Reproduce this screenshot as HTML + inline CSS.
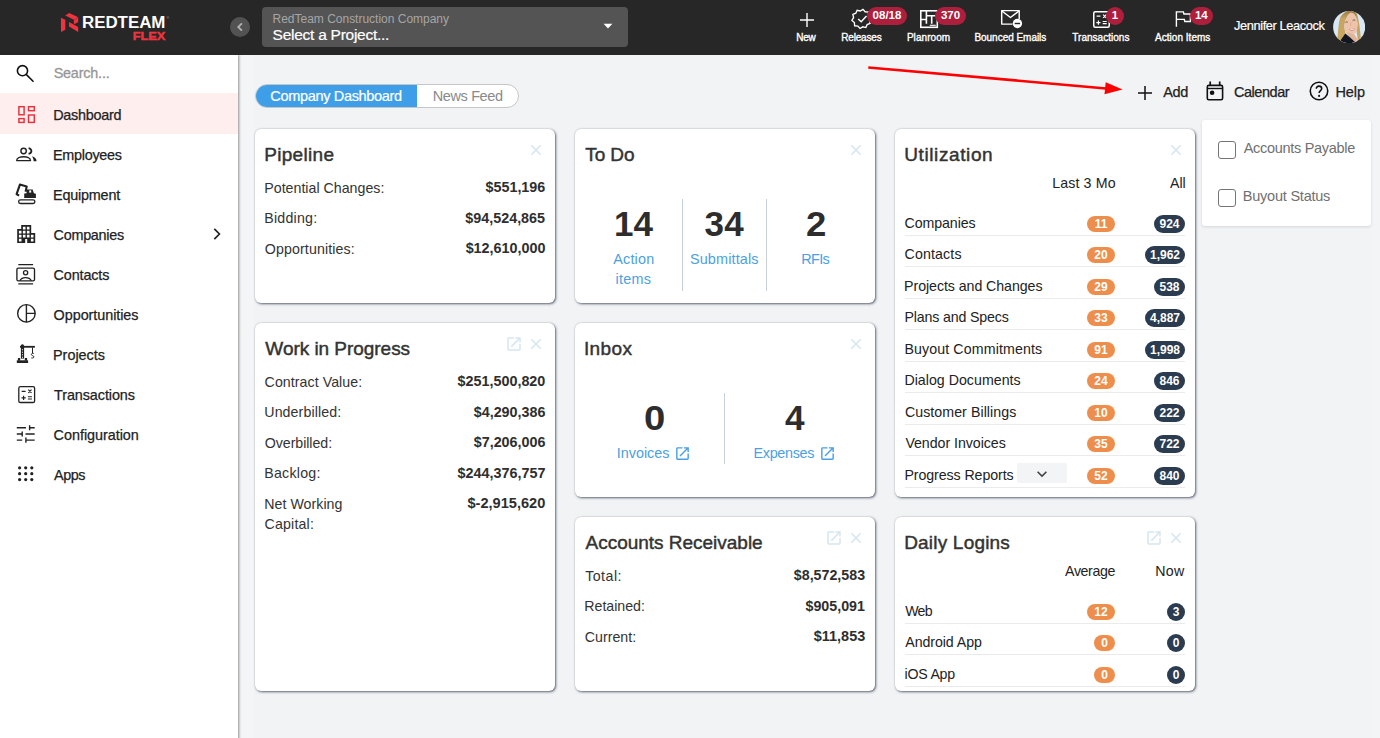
<!DOCTYPE html>
<html><head><meta charset="utf-8">
<style>
*{box-sizing:border-box;margin:0;padding:0}
html,body{width:1380px;height:738px;overflow:hidden}
body{font-family:"Liberation Sans",sans-serif;background:#f1f3f5;position:relative;color:#333}
.abs{position:absolute}
#hdr{position:absolute;left:0;top:0;width:1380px;height:55px;background:#272727;z-index:5}
#side{position:absolute;left:0;top:55px;width:238px;height:700px;background:#fff;box-shadow:1px 0 2.500px rgba(0,0,0,.42);z-index:3}
.nav{position:absolute;left:0;width:238px;height:40px}
.nav .t{position:absolute;left:54px;top:11px;font-size:14.4px;line-height:18px;color:#222;white-space:nowrap;-webkit-text-stroke:.25px #222}
.nav svg{position:absolute;left:14px;top:8px;width:24px;height:24px;fill:#222}
.card{position:absolute;background:#fff;border-radius:6px;box-shadow:1px 1px 2.5px rgba(55,62,85,.78), 0 0 1.5px rgba(55,62,85,.25)}
.card h3{position:absolute;left:10px;top:14px;font-size:19px;line-height:24px;font-weight:normal;color:#333;white-space:nowrap;-webkit-text-stroke:.45px #333}
.rl{position:absolute;left:10px;height:20px;font-size:14.2px;line-height:20px;color:#333;white-space:nowrap}
.rv{position:absolute;right:10px;height:20px;font-weight:bold;color:#2e2e2e;font-size:15.2px;line-height:20px;white-space:nowrap;top:0}
.ch{position:absolute;font-size:14.2px;line-height:20px;color:#222;white-space:nowrap}
.x{position:absolute;width:18px;height:18px;fill:#d5e6f3}
.big{position:absolute;font-weight:bold;font-size:35px;line-height:40px;color:#2d2d2d;text-align:center;width:80px}
.lnk{position:absolute;font-size:14.4px;line-height:20px;color:#4b9fe3;text-align:center;width:90px}
.lnk span,.po span,.pd span{display:inline-block}
.vdiv{position:absolute;width:1px;background:#c8d0da}
.urow{position:absolute;left:10px;right:10px;height:32px;border-bottom:1px solid #ebebed}
.urow .l{position:absolute;left:0;top:9px;font-size:14.2px;line-height:20px;color:#222;white-space:nowrap}
.po,.pd{position:absolute;height:17px;border-radius:9px;color:#fff;font-weight:bold;font-size:12px;line-height:17px;text-align:center;top:8px}
.po{background:#ee8e4c}
.pd{background:#2b3b50}
.hi{position:absolute;top:0;height:55px;color:#fff;font-size:10px;text-align:center}
.hi .lb{position:absolute;top:31.700px;left:0;right:0;line-height:12px;white-space:nowrap;-webkit-text-stroke:.35px #fff}
.bdg{position:absolute;height:20px;border-radius:10px;background:#ad1f3c;color:#fff;font-weight:bold;font-size:11.500px;line-height:20px;text-align:center;top:5px}
</style>
<style id="fit">
#t_rcc{letter-spacing:-0.009px;transform:translateX(-0.48px)}
#t_sap{letter-spacing:-0.257px;transform:translateX(-0.42px)}
#t_search{letter-spacing:-0.191px;transform:translateX(-0.35px)}
#n0{letter-spacing:-0.241px;transform:translateX(-0.85px)}
#n1{letter-spacing:-0.287px;transform:translateX(-0.97px)}
#n2{letter-spacing:-0.206px;transform:translateX(-0.97px)}
#n3{letter-spacing:-0.291px;transform:translateX(-0.38px)}
#n4{letter-spacing:-0.148px;transform:translateX(-0.38px)}
#n5{letter-spacing:-0.059px;transform:translateX(-0.39px)}
#n6{letter-spacing:-0.013px;transform:translateX(-0.97px)}
#n7{letter-spacing:-0.078px;transform:translateX(0.00px)}
#n8{letter-spacing:-0.031px;transform:translateX(-0.38px)}
#n9{letter-spacing:-0.404px;transform:translateX(-0.06px)}
#t_cd{letter-spacing:-0.325px;transform:translateX(-0.69px)}
#t_nf{letter-spacing:-0.372px;transform:translateX(-0.79px)}
#t_add{letter-spacing:-0.367px;transform:translateX(0.24px)}
#t_cal{letter-spacing:-0.449px;transform:translateX(-0.09px)}
#t_help{letter-spacing:-0.056px;transform:translateX(-0.59px)}
#t_ap{letter-spacing:-0.302px;transform:translateX(0.20px)}
#t_bs{letter-spacing:-0.224px;transform:translateX(-0.72px)}
#h_pipe{letter-spacing:0.313px;transform:translateX(-0.85px)}
#pi_l0{letter-spacing:0.011px;transform:translateX(-0.75px)}
#pi_l1{letter-spacing:0.235px;transform:translateX(-0.75px)}
#pi_l2{letter-spacing:0.131px;transform:translateX(-0.26px)}
#h_todo{letter-spacing:-0.085px;transform:translateX(0.24px)}
#h_util{letter-spacing:0.615px;transform:translateX(-0.83px)}
#t_l3{letter-spacing:0.143px;transform:translateX(0.72px)}
#t_all{letter-spacing:-0.163px;transform:translateX(0.88px)}
#u_l0{letter-spacing:-0.097px;transform:translateX(-0.40px)}
#u_l1{letter-spacing:0.131px;transform:translateX(-0.40px)}
#u_l2{letter-spacing:-0.062px;transform:translateX(-0.89px)}
#u_l3{letter-spacing:-0.142px;transform:translateX(-0.60px)}
#u_l4{letter-spacing:0.123px;transform:translateX(-0.60px)}
#u_l5{letter-spacing:0.018px;transform:translateX(-0.60px)}
#u_l6{letter-spacing:0.058px;transform:translateX(-0.06px)}
#u_l7{letter-spacing:-0.039px;transform:translateX(0.38px)}
#u_l8{letter-spacing:-0.077px;transform:translateX(-0.60px)}
#h_wip{letter-spacing:-0.042px;transform:translateX(0.36px)}
#wp_l0{letter-spacing:0.057px;transform:translateX(-0.39px)}
#wp_l1{letter-spacing:0.098px;transform:translateX(-0.71px)}
#wp_l2{letter-spacing:-0.044px;transform:translateX(-0.26px)}
#wp_l3{letter-spacing:0.244px;transform:translateX(-0.75px)}
#wp_l4{letter-spacing:0.033px;transform:translateX(-0.75px)}
#wp_l4b{letter-spacing:0.160px;transform:translateX(-0.39px)}
#h_inbox{letter-spacing:0.375px;transform:translateX(-1.04px)}
#h_ar{letter-spacing:-0.015px;transform:translateX(0.52px)}
#ar_l0{letter-spacing:0.493px;transform:translateX(0.14px)}
#ar_l1{letter-spacing:-0.004px;transform:translateX(-0.75px)}
#ar_l2{letter-spacing:0.020px;transform:translateX(-0.26px)}
#h_dl{letter-spacing:0.193px;transform:translateX(-0.80px)}
#t_avg{letter-spacing:-0.381px;transform:translateX(-0.02px)}
#t_now{letter-spacing:0.209px;transform:translateX(-0.14px)}
#d_l0{letter-spacing:-0.875px;transform:translateX(0.36px)}
#d_l1{letter-spacing:-0.068px;transform:translateX(0.26px)}
#d_l2{letter-spacing:-0.236px;transform:translateX(-0.48px)}
#k_act{letter-spacing:0.189px;transform:translateX(0.32px)}
#k_itm{letter-spacing:0.260px;transform:translateX(-0.08px)}
#k_sub{letter-spacing:0.150px;transform:translateX(-0.38px)}
#k_rfi{letter-spacing:-0.664px;transform:translateX(-0.78px)}
#k_inv{letter-spacing:-0.026px;transform:translateX(-1.18px)}
#k_exp{letter-spacing:-0.333px;transform:translateX(-1.26px)}
#t_new{letter-spacing:-0.291px;transform:translateX(-1.08px)}
#t_rel{letter-spacing:-0.185px;transform:translateX(-0.65px)}
#t_pln{letter-spacing:0.064px;transform:translateX(-0.46px)}
#t_bnc{letter-spacing:-0.028px;transform:translateX(-0.65px)}
#t_trn{letter-spacing:0.016px;transform:translateX(-0.12px)}
#t_act{letter-spacing:0.028px;transform:translateX(0.72px)}
#t_usr{letter-spacing:-0.379px;transform:translateX(-0.05px)}
#g14{letter-spacing:-0.061px;transform:translateX(-1.07px)}
#g34{letter-spacing:0.192px;transform:translateX(-0.33px)}
#g2{transform:translateX(0.12px) scaleX(1.045)}
#g0{transform:translateX(-0.38px) scaleX(1.094)}
#g4{transform:translateX(-0.22px) scaleX(1.006)}
#pi_v0{transform-origin:right center;transform:translateX(-0.07px) scaleX(0.9435)}
#pi_v1{transform-origin:right center;transform:translateX(-0.44px) scaleX(0.9434)}
#pi_v2{transform-origin:right center;transform:translateX(-0.01px) scaleX(0.9451)}
#wp_v0{transform-origin:right center;transform:translateX(0.43px) scaleX(0.9452)}
#wp_v1{transform-origin:right center;transform:translateX(0.36px) scaleX(0.9421)}
#wp_v2{transform-origin:right center;transform:translateX(0.36px) scaleX(0.9421)}
#wp_v3{transform-origin:right center;transform:translateX(0.50px) scaleX(0.9460)}
#wp_v4{transform-origin:right center;transform:translateX(0.26px) scaleX(0.9603)}
#ar_v0{transform-origin:right center;transform:translateX(0.04px) scaleX(0.9368)}
#ar_v1{transform-origin:right center;transform:translateX(-0.41px) scaleX(0.9378)}
#ar_v2{transform-origin:right center;transform:translateX(0.15px) scaleX(0.9514)}
</style></head><body>


<div id="hdr">
 <!-- logo -->
 <svg class="abs" style="left:0;top:0" width="240" height="55" viewBox="0 0 240 55">
  <g fill="#f0343f"><path d="M60.900 17.800L65.300 19.800V29.700L61 32Z"/><path d="M69.200 12.900L78.200 17.300 73.900 19.800 65.300 15.400Z"/><path d="M73.900 19.800L78.200 17.400V22.200L73.900 24.200Z" fill="#ec323d"/><path d="M69 21.900L78.200 27.100V32L69 26.600Z"/></g>
  <text x="82" y="27.800" font-family="Liberation Sans" font-weight="bold" font-size="16" fill="#fff" textLength="83.400" lengthAdjust="spacingAndGlyphs">REDTEAM</text>
  <text x="132.700" y="40.400" font-family="Liberation Sans" font-weight="bold" font-size="11.600" fill="#f0343f" stroke="#f0343f" stroke-width=".45" textLength="32.700" lengthAdjust="spacingAndGlyphs">FLEX</text>
  <text x="166.500" y="19" font-family="Liberation Sans" font-size="3.600" fill="#aaa">®</text>
 </svg>
 <!-- collapse -->
 <div class="abs" style="left:230px;top:17px;width:20px;height:20px;border-radius:50%;background:#525252"></div>
 <svg class="abs" style="left:232px;top:19px" width="16" height="16" viewBox="0 0 24 24"><path fill="#b8b8b8" stroke="#b8b8b8" stroke-width=".8" d="M15.41 7.41L14 6l-6 6 6 6 1.41-1.41L10.83 12z"/></svg>
 <!-- project selector -->
 <div class="abs" style="left:262px;top:7px;width:366px;height:40px;border-radius:4px;background:#545454"></div>
 <div class="abs" id="t_rcc" style="left:273px;top:12px;font-size:12px;line-height:14px;color:#a6a6a6;white-space:nowrap">RedTeam Construction Company</div>
 <div class="abs" id="t_sap" style="left:273px;top:25px;font-size:15.5px;line-height:19px;color:#fff;-webkit-text-stroke:.2px #fff;white-space:nowrap">Select a Project...</div>
 <svg class="abs" style="left:596px;top:14px" width="24" height="24" viewBox="0 0 24 24"><path fill="#fff" d="M7.6 9.8l4.4 4.6 4.4-4.6z"/></svg>

 <!-- New -->
 <svg class="abs" style="left:795px;top:8px" width="24" height="24" viewBox="0 0 24 24"><path fill="#fff" d="M19 12.7h-6.3V19h-1.4v-6.3H5v-1.4h6.3V5h1.4v6.3H19z"/></svg>
 <div class="hi" style="left:787px;width:40px"><div class="lb" id="t_new">New</div></div>
 <svg class="abs" style="left:0;top:0" width="1380" height="55" viewBox="0 0 1380 55"><polygon points="863.02,9.32 865.13,11.77 868.36,12.04 868.63,15.27 871.08,17.38 869.40,20.15 870.14,23.30 867.16,24.56 865.90,27.54 862.75,26.80 859.98,28.48 857.87,26.03 854.64,25.76 854.37,22.53 851.92,20.42 853.60,17.65 852.86,14.50 855.84,13.24 857.10,10.26 860.25,11.00" fill="none" stroke="#fff" stroke-width="1.35" stroke-linejoin="miter"/><path d="M858.2 18.900l3 2.900 5.300-5.800" fill="none" stroke="#fff" stroke-width="1.450"/><g fill="none" stroke="#fff" stroke-width="1.600"><rect x="920.800" y="10.800" width="16.500" height="16.500"/><path d="M926.400 10.800v13M920.800 19.500h5.600M926.400 15.800h11M931.700 15.800v8" /><path d="M929.800 25.300h6" stroke-width="1.100"/></g><g fill="none" stroke="#fff" stroke-width="1.450" stroke-linejoin="round"><path d="M1012.500 24.100h-10.800v-13.500h17.500v8.400"/><path d="M1001.900 11l8.550 6.500 8.550-6.500"/></g><circle cx="1017.400" cy="23.500" r="4.700" fill="#fff"/><rect x="1014.700" y="22.800" width="5.400" height="1.400" fill="#272727"/><g fill="none" stroke="#fff"><rect x="1093.750" y="11.650" width="15.500" height="15.500" rx="1.500" stroke-width="1.500"/><path d="M1096.600 16.200h3.800M1102.700 21.500h4M1102.700 23.700h4M1096.300 22.600h4.200M1098.400 20.500v4.200M1103.100 14.600l3.200 3.200M1106.300 14.600l-3.200 3.200" stroke-width="1.200"/></g><path d="M1176.400 26.700V11.900h7l.5 2.100h6.500v7.500h-5.600l-.5-2.100h-7.900" fill="none" stroke="#fff" stroke-width="1.400"/></svg>
 <!-- Releases -->
 
 <div class="hi" style="left:832px;width:60px"><div class="lb" id="t_rel">Releases</div></div>
 <div class="bdg" style="left:867px;width:40px;top:7px;height:18px;line-height:17.400px" id="b1">08/18</div>
 <!-- Planroom -->
 
 <div class="hi" style="left:899px;width:60px"><div class="lb" id="t_pln">Planroom</div></div>
 <div class="bdg" style="left:935px;width:31px;top:7px;height:18px;line-height:17.400px" id="b2">370</div>
 <!-- Bounced Emails -->
 
 <div class="hi" style="left:971px;width:80px"><div class="lb" id="t_bnc">Bounced Emails</div></div>
 <!-- Transactions -->
 
 <div class="hi" style="left:1066px;width:70px"><div class="lb" id="t_trn">Transactions</div></div>
 <div class="bdg" style="left:1106px;width:18px;top:7px;height:18px;line-height:17.400px">1</div>
 <!-- Action Items -->
 
 <div class="hi" style="left:1147px;width:70px"><div class="lb" id="t_act">Action Items</div></div>
 <div class="bdg" style="left:1189.800px;width:23px;top:7px;height:18px;line-height:17.400px">14</div>
 <!-- user -->
 <div class="abs" id="t_usr" style="left:1234px;top:17.800px;font-size:12.800px;line-height:16px;color:#fff;-webkit-text-stroke:.2px #fff;white-space:nowrap">Jennifer Leacock</div>
 <svg class="abs" style="left:1332.900px;top:10.800px" width="32.300" height="32.200" viewBox="0 0 32 32">
  <defs><clipPath id="av"><circle cx="16" cy="16" r="16"/></clipPath>
  <linearGradient id="hg" x1="0" y1="0" x2="0" y2="1"><stop offset="0" stop-color="#9a7842"/><stop offset=".25" stop-color="#c7a461"/><stop offset="1" stop-color="#c9a762"/></linearGradient></defs>
  <g clip-path="url(#av)">
   <rect width="32" height="32" fill="#d6e7f5"/><path d="M13 1C15 -.5 20 -.5 22.800 1.800L20.600 3 17.600 2 15 3.600Z" fill="#9a7842"/>
   <path d="M14.600 0C12 .5 8 4 6.700 7.600 5.500 12 5.200 18.600 4.300 27.400L7.300 29.500 12.500 23 11 15.500 12.200 9.500 15.200 3.400 17.600 1.200Z" fill="url(#hg)"/>
   <path d="M17.600 1.200C20 .3 22 .8 22.800 1.800 24.500 4 25.600 10 26.300 14.300 27 20 27.300 24 27.500 27.100L24.800 29.300 23.400 20.400 24.300 12.500 22.800 6.400 20.600 2.700Z" fill="url(#hg)"/>
   <path d="M15.200 3.400L17.600 1.600 20.600 2.600 23 6.400 24.500 12.500 23.600 20.400 20.600 23.300 16.400 22.900 12.200 20.400 11 15.500 12.200 9.500Z" fill="#edc3a9"/>
   <path d="M12.500 21L20.800 23.100 24.600 28.400 22.400 31.500 16.400 26Z" fill="#e2b497"/>
   <path d="M7.300 29.300L12.200 22.300 16.400 25.900 21.800 30.800 16.400 32.500 10.400 31.200Z" fill="#121620"/>
   <path d="M15.700 17.300C17.500 18.300 20 18 22 16.700 21.500 19 19.800 19.900 18.600 19.800 17.200 19.700 16.100 18.600 15.700 17.300Z" fill="#d88c8f"/>
   <path d="M16.300 17.700C18 18.400 20 18.100 21.500 17.200 21 18.400 19.800 18.900 18.700 18.900 17.700 18.800 16.800 18.400 16.300 17.700Z" fill="#fff"/>
   <path d="M12.300 11.300c.7-.6 1.600-.6 2.300-.1M19.500 9.500c.8-.7 1.800-.8 2.600-.3" stroke="#5d4838" stroke-width=".9" fill="none"/>
   <path d="M17.800 11.500l-.6 3.300" stroke="#dba98d" stroke-width=".8" fill="none"/>
  </g>
 </svg>
</div>


<div id="side">
 <div class="abs" style="left:0;top:38px;width:238px;height:41px;background:#feeeee"></div>
 <!-- search -->
 
 <div class="abs" id="t_search" style="left:54px;top:9px;font-size:14.400px;line-height:18px;color:#979797;-webkit-text-stroke:.3px #979797;white-space:nowrap">Search...</div>

 <div class="nav" style="top:40px"><div class="t" id="n0">Dashboard</div></div>

 <div class="nav" style="top:80px"><div class="t" id="n1">Employees</div></div>

 <div class="nav" style="top:120px"><div class="t" id="n2">Equipment</div></div>

 <div class="nav" style="top:160px"><div class="t" id="n3">Companies</div>
  </div>

 <div class="nav" style="top:200px"><div class="t" id="n4">Contacts</div></div>

 <div class="nav" style="top:240px"><div class="t" id="n5">Opportunities</div></div>

 <div class="nav" style="top:280px"><div class="t" id="n6">Projects</div></div>

 <div class="nav" style="top:320px"><div class="t" id="n7">Transactions</div></div>

 <div class="nav" style="top:360px"><div class="t" id="n8">Configuration</div></div>

 <div class="nav" style="top:400px"><div class="t" id="n9">Apps</div></div>

 <svg class="abs" style="left:0;top:-55px;pointer-events:none" width="238" height="738" viewBox="0 0 238 738">
  <!-- search -->
  <g fill="none" stroke="#111" stroke-width="1.600"><circle cx="22.500" cy="70.700" r="5.100"/><path d="M26.200 74.400l7.300 7.300"/></g>
  <!-- dashboard -->
  <g fill="none" stroke="#e8313d" stroke-width="1.450"><rect x="18.900" y="106.700" width="5.200" height="8.100"/><rect x="28.500" y="106.700" width="5.800" height="4"/><rect x="18.900" y="118.600" width="5.200" height="3.800"/><rect x="28.500" y="115" width="5.800" height="7.400"/></g>
  <!-- employees -->
  <g fill="none" stroke="#222" stroke-width="1.400"><circle cx="23.600" cy="151" r="2.700"/><path d="M16.700 160.600c0-2.600 3.600-3.900 6.900-3.900s6.900 1.300 6.900 3.900z" stroke-linejoin="round"/><path d="M28.600 148.100c2 .5 2.800 1.700 2.800 2.900s-.8 2.400-2.800 2.900" stroke-width="1.800"/></g>
  <path d="M31.700 156.200c3.100.6 4.900 2.400 4.900 5.100h-3c0-2.100-.5-3.700-1.900-5.100z" fill="#222"/>
  <!-- equipment -->
  <g fill="none" stroke="#222"><rect x="18.600" y="199.900" width="16.300" height="3.600" rx="1.800" stroke-width="1.300"/><path d="M25.600 191.800l1.100-5.200-6.800-2-3.300 9.500 2.500 1.600" stroke-width="2.100" stroke-linejoin="round"/></g>
  <path d="M24.200 197.900v-4.300l2.400-.4v-3.800h6l1.300 3.800 2 .5v4.200z" fill="#222"/><rect x="29.200" y="190.400" width="2" height="2.200" fill="#fff"/>
  <!-- companies -->
  <g transform="translate(14.200,222.100)" fill="#222"><path d="M17 11V3H7v4H3v14h8v-4h2v4h8V11h-4zM7.300 19.300H4.700v-2.600h2.600v2.600zm0-4H4.700v-2.600h2.600v2.600zm0-4H4.700V8.700h2.600v2.600zm4 4H8.700v-2.600h2.600v2.600zm0-4H8.700V8.700h2.600v2.600zm0-4H8.700V4.700h2.600v2.600zm4 8h-2.600v-2.600h2.600v2.600zm0-4h-2.600V8.700h2.600v2.600zm0-4h-2.600V4.700h2.600v2.600zm4 12h-2.600v-2.600h2.600v2.600zm0-4h-2.600v-2.600h2.600v2.600z"/></g>
  <path d="M214.300 228.900l5.100 5.100-5.100 5.100" fill="none" stroke="#222" stroke-width="1.700"/>
  <!-- contacts -->
  <g fill="none" stroke="#222" stroke-width="1.350"><rect x="16.900" y="268.100" width="17.600" height="12.700" rx="1.400"/><path d="M18.300 264.600h14.800M18.300 283.800h14.800"/><circle cx="25.600" cy="272.800" r="2.100"/><path d="M19.800 280.700c1.200-2.200 3.500-3.100 5.800-3.100s4.600.9 5.800 3.100"/></g>
  <!-- opportunities -->
  <g fill="none" stroke="#222" stroke-width="1.400"><circle cx="26.400" cy="313.400" r="8.750"/><path d="M26.400 304.600v17.600M26.400 313.400h8.800"/></g>
  <!-- projects -->
  <g fill="#222"><rect x="20" y="345.900" width="14.900" height="1.800"/><circle cx="22.400" cy="345.900" r="1.700"/><rect x="20.900" y="347" width="3.200" height="11.600"/><rect x="17.900" y="358" width="2.300" height="2.600"/><rect x="24.800" y="358" width="2.300" height="2.600"/><rect x="16.800" y="360.300" width="11.300" height="2.700"/></g>
  <g fill="#fff"><rect x="22.100" y="349.200" width=".9" height="1.100"/><rect x="22.100" y="351.700" width=".9" height="1.100"/><rect x="22.100" y="354.200" width=".9" height="1.100"/><rect x="22.100" y="356.700" width=".9" height="1.100"/></g>
  <path d="M32.500 347.500v5.600" stroke="#222" stroke-width="1" fill="none"/><path d="M33.800 353.400h-1.100c-.8 0-1.300.4-1.300 1.100 0 1.500 2.500.9 2.500 2.400 0 .7-.5 1.100-1.300 1.100h-1.300" stroke="#222" stroke-width=".95" fill="none"/>
  <!-- transactions -->
  <g fill="none" stroke="#222"><rect x="18.800" y="386.700" width="15.800" height="15.800" rx="1.600" stroke-width="1.300"/><path d="M21.700 391.300h3.900M27.900 396.700h4M27.900 399h4M21.500 397.900h4.200M23.600 395.800v4.200M28.300 389.700l3.200 3.200M31.500 389.700l-3.200 3.200" stroke-width="1.150"/></g>
  <!-- configuration -->
  <g fill="none" stroke="#222" stroke-width="1.400"><path d="M16.800 427.700h9.200M29.600 427.700h5.100M29.600 425.200v5M16.800 434h5.400M25.500 434h9.200M22.200 431.400v5.200M16.800 440.100h5.400M25.900 440.100h8.800M25.900 437.500v5.200"/></g>
  <!-- apps -->
  <g fill="#222"><circle cx="19.6" cy="467.8" r="1.600"/><circle cx="25.7" cy="467.8" r="1.600"/><circle cx="31.8" cy="467.8" r="1.600"/><circle cx="19.6" cy="473.7" r="1.600"/><circle cx="25.7" cy="473.7" r="1.600"/><circle cx="31.8" cy="473.7" r="1.600"/><circle cx="19.6" cy="479.6" r="1.600"/><circle cx="25.7" cy="479.6" r="1.600"/><circle cx="31.8" cy="479.6" r="1.600"/></g>
 </svg>
</div>
<div class="abs" id="lstrip" style="left:238px;top:55px;width:16px;height:683px;background:#f4f5f7"></div>
<div class="abs" id="strip" style="left:1371px;top:55px;width:9px;height:683px;background:#f3f4f6"></div>
<!-- tabs -->
<div class="abs" style="left:255px;top:84px;width:264px;height:24px;border-radius:12px;background:#fff;border:1px solid #c6c6c6"></div>
<div class="abs" style="left:256px;top:85px;width:161px;height:22px;border-radius:11px 0 0 11px;background:#3e9fe8"></div>
<div class="abs" id="t_cd" style="left:271px;top:87px;font-size:14.500px;line-height:18px;color:#fff;white-space:nowrap;-webkit-text-stroke:.2px #fff">Company Dashboard</div>
<div class="abs" id="t_nf" style="left:433.500px;top:87px;font-size:14.500px;line-height:18px;color:#8a8a8a;white-space:nowrap">News Feed</div>

<!-- arrow -->
<svg class="abs" style="left:0;top:55px" width="1380" height="60" viewBox="0 55 1380 60"><path d="M868.300 67.400L1106 88.400" stroke="#ff0000" stroke-width="2.500" fill="none"/><path d="M1122.600 89.600L1105.700 82.300 1104.500 94.200z" fill="#ff0000"/></svg>

<!-- Add / Calendar / Help -->
<svg class="abs" style="left:1133px;top:80.500px" width="24" height="24" viewBox="0 0 24 24"><path fill="#111" d="M19 12.750h-6.250V19h-1.500v-6.250H5v-1.500h6.250V5h1.500v6.250H19z"/></svg>
<div class="abs" id="t_add" style="left:1163px;top:83px;font-size:14.500px;line-height:18px;color:#222;white-space:nowrap;-webkit-text-stroke:.25px #222">Add</div>
<svg class="abs" style="left:1202.900px;top:79.100px" width="24" height="24" viewBox="0 0 24 24"><g fill="none" stroke="#111" stroke-width="1.600"><rect x="4.300" y="6.400" width="15.300" height="14.300" rx="1.500"/><path d="M4.300 9.500h15.300" stroke-width="1.400"/><path d="M7.200 2.400v4M16.700 2.400v4" stroke-width="1.700"/></g><circle cx="9.100" cy="13.700" r="2.300" fill="#111"/></svg>
<div class="abs" id="t_cal" style="left:1234px;top:83px;font-size:14.500px;line-height:18px;color:#222;white-space:nowrap;-webkit-text-stroke:.25px #222">Calendar</div>
<svg class="abs" style="left:1307px;top:79.100px" width="24" height="24" viewBox="0 0 24 24"><g fill="none" stroke="#111" stroke-width="1.550"><circle cx="12" cy="12" r="8.750"/><path d="M9.300 9.700c0-1.500 1.200-2.600 2.700-2.600s2.700 1 2.700 2.500c0 1.900-2.600 2.200-2.600 4.500"/></g><circle cx="12.100" cy="16.900" r="1.050" fill="#111"/></svg>
<div class="abs" id="t_help" style="left:1336px;top:83px;font-size:14.500px;line-height:18px;color:#222;white-space:nowrap;-webkit-text-stroke:.25px #222">Help</div>

<!-- dropdown panel -->
<div class="abs" style="left:1202px;top:120px;width:169px;height:106px;background:#fff;border-radius:3px;box-shadow:0 1px 3px rgba(0,0,0,.13)"></div>
<div class="abs" style="left:1218px;top:141px;width:18px;height:18px;border:1.300px solid #757575;border-radius:3px;background:#fff"></div>
<div class="abs" id="t_ap" style="left:1243.500px;top:139px;font-size:14.500px;line-height:18px;color:#707070;white-space:nowrap">Accounts Payable</div>
<div class="abs" style="left:1218px;top:189px;width:18px;height:18px;border:1.300px solid #757575;border-radius:3px;background:#fff"></div>
<div class="abs" id="t_bs" style="left:1243.500px;top:187px;font-size:14.500px;line-height:18px;color:#707070;white-space:nowrap">Buyout Status</div>
<div class="card" style="left:255px;top:129px;width:300px;height:174px"><h3 id="h_pipe">Pipeline</h3><svg class="x" style="left:272.0px;top:12.2px" viewBox="0 0 24 24"><path d="M19 6.410L17.590 5 12 10.590 6.410 5 5 6.410 10.590 12 5 17.590 6.410 19 12 13.410 17.590 19 19 17.590 13.410 12z"/></svg><div class="rl" id="pi_l0" style="top:48.7px">Potential Changes:</div><div class="rv" id="pi_v0" style="top:48.4px">$551,196</div><div class="rl" id="pi_l1" style="top:79.2px">Bidding:</div><div class="rv" id="pi_v1" style="top:78.9px">$94,524,865</div><div class="rl" id="pi_l2" style="top:109.6px">Opportunities:</div><div class="rv" id="pi_v2" style="top:109.3px">$12,610,000</div></div><div class="card" style="left:575px;top:129px;width:300px;height:174px"><h3 id="h_todo">To Do</h3><svg class="x" style="left:272.0px;top:12.2px" viewBox="0 0 24 24"><path d="M19 6.410L17.590 5 12 10.590 6.410 5 5 6.410 10.590 12 5 17.590 6.410 19 12 13.410 17.590 19 19 17.590 13.410 12z"/></svg>
<div class="big" id="g14" style="left:19.5px;top:75px">14</div><div class="big" id="g34" style="left:109.5px;top:75px">34</div><div class="big" id="g2" style="left:201px;top:75px">2</div>
<div class="lnk" style="left:13.500px;top:120px"><span id="k_act">Action</span><br><span id="k_itm">items</span></div><div class="lnk" style="left:104.700px;top:120px"><span id="k_sub">Submittals</span></div><div class="lnk" style="left:196px;top:120px"><span id="k_rfi">RFIs</span></div>
<div class="vdiv" style="left:107px;top:70px;height:92px"></div><div class="vdiv" style="left:191px;top:70px;height:92px"></div>
</div><div class="card" style="left:895px;top:129px;width:300px;height:368px"><h3 id="h_util">Utilization</h3><svg class="x" style="left:272.0px;top:12.2px" viewBox="0 0 24 24"><path d="M19 6.410L17.590 5 12 10.590 6.410 5 5 6.410 10.590 12 5 17.590 6.410 19 12 13.410 17.590 19 19 17.590 13.410 12z"/></svg><div class="ch" style="right:80px;top:44px" id="t_l3">Last 3 Mo</div><div class="ch" style="right:10.500px;top:44px" id="t_all">All</div><div class="urow" style="top:75px"><div class="l" id="u_l0" style="top:8.9px">Companies</div><div class="po" style="right:70.0px;width:28.0px;height:16px;line-height:16px;top:11.9px;border-radius:9px"><span id="u_o0">11</span></div><div class="pd" style="right:0.0px;width:31.0px;height:18px;line-height:18px;top:10.9px;border-radius:10px"><span id="u_d0">924</span></div></div><div class="urow" style="top:106px"><div class="l" id="u_l1" style="top:9.4px">Contacts</div><div class="po" style="right:70.0px;width:28.0px;height:16px;line-height:16px;top:12.4px;border-radius:9px"><span id="u_o1">20</span></div><div class="pd" style="right:0.0px;width:40.0px;height:18px;line-height:18px;top:11.4px;border-radius:10px"><span id="u_d1">1,962</span></div></div><div class="urow" style="top:138px"><div class="l" id="u_l2" style="top:8.8px">Projects and Changes</div><div class="po" style="right:70.0px;width:28.0px;height:16px;line-height:16px;top:11.8px;border-radius:9px"><span id="u_o2">29</span></div><div class="pd" style="right:0.0px;width:31.0px;height:18px;line-height:18px;top:10.8px;border-radius:10px"><span id="u_d2">538</span></div></div><div class="urow" style="top:169px"><div class="l" id="u_l3" style="top:9.3px">Plans and Specs</div><div class="po" style="right:70.0px;width:28.0px;height:16px;line-height:16px;top:12.3px;border-radius:9px"><span id="u_o3">33</span></div><div class="pd" style="right:0.0px;width:40.0px;height:18px;line-height:18px;top:11.3px;border-radius:10px"><span id="u_d3">4,887</span></div></div><div class="urow" style="top:201px"><div class="l" id="u_l4" style="top:8.8px">Buyout Commitments</div><div class="po" style="right:70.0px;width:28.0px;height:16px;line-height:16px;top:11.8px;border-radius:9px"><span id="u_o4">91</span></div><div class="pd" style="right:0.0px;width:40.0px;height:18px;line-height:18px;top:10.8px;border-radius:10px"><span id="u_d4">1,998</span></div></div><div class="urow" style="top:232px"><div class="l" id="u_l5" style="top:9.2px">Dialog Documents</div><div class="po" style="right:70.0px;width:28.0px;height:16px;line-height:16px;top:12.2px;border-radius:9px"><span id="u_o5">24</span></div><div class="pd" style="right:0.0px;width:31.0px;height:18px;line-height:18px;top:11.2px;border-radius:10px"><span id="u_d5">846</span></div></div><div class="urow" style="top:264px"><div class="l" id="u_l6" style="top:8.7px">Customer Billings</div><div class="po" style="right:70.0px;width:28.0px;height:16px;line-height:16px;top:11.7px;border-radius:9px"><span id="u_o6">10</span></div><div class="pd" style="right:0.0px;width:31.0px;height:18px;line-height:18px;top:10.7px;border-radius:10px"><span id="u_d6">222</span></div></div><div class="urow" style="top:295px"><div class="l" id="u_l7" style="top:9.2px">Vendor Invoices</div><div class="po" style="right:70.0px;width:28.0px;height:16px;line-height:16px;top:12.2px;border-radius:9px"><span id="u_o7">35</span></div><div class="pd" style="right:0.0px;width:31.0px;height:18px;line-height:18px;top:11.2px;border-radius:10px"><span id="u_d7">722</span></div></div><div class="urow" style="top:327px"><div class="l" id="u_l8" style="top:8.7px">Progress Reports</div><div class="abs" style="left:112px;top:7px;width:50px;height:20px;background:#f3f4f6;border-radius:2px"></div><svg class="abs" style="left:127px;top:7.500px" width="20" height="20" viewBox="0 0 24 24"><path fill="#444" d="M16.590 8.590L12 13.170 7.410 8.590 6 10l6 6 6-6z"/></svg><div class="po" style="right:70.0px;width:28.0px;height:16px;line-height:16px;top:11.7px;border-radius:9px"><span id="u_o8">52</span></div><div class="pd" style="right:0.0px;width:31.0px;height:18px;line-height:18px;top:10.7px;border-radius:10px"><span id="u_d8">840</span></div></div></div><div class="card" style="left:255px;top:323px;width:300px;height:368px"><h3 id="h_wip">Work in Progress</h3><svg class="x" style="left:249.5px;top:11.8px" viewBox="0 0 24 24"><path d="M19 19H5V5h7V3H5c-1.110 0-2 .9-2 2v14c0 1.100.890 2 2 2h14c1.100 0 2-.9 2-2v-7h-2v7zM14 3v2h3.590l-9.830 9.830 1.410 1.410L19 6.410V10h2V3h-7z"/></svg><svg class="x" style="left:272.0px;top:12.2px" viewBox="0 0 24 24"><path d="M19 6.410L17.590 5 12 10.590 6.410 5 5 6.410 10.590 12 5 17.590 6.410 19 12 13.410 17.590 19 19 17.590 13.410 12z"/></svg><div class="rl" id="wp_l0" style="top:48.7px">Contract Value:</div><div class="rv" id="wp_v0" style="top:48.4px">$251,500,820</div><div class="rl" id="wp_l1" style="top:79.2px">Underbilled:</div><div class="rv" id="wp_v1" style="top:78.9px">$4,290,386</div><div class="rl" id="wp_l2" style="top:109.6px">Overbilled:</div><div class="rv" id="wp_v2" style="top:109.3px">$7,206,006</div><div class="rl" id="wp_l3" style="top:140.1px">Backlog:</div><div class="rv" id="wp_v3" style="top:139.8px">$244,376,757</div><div class="rl" id="wp_l4" style="top:170.5px">Net Working</div><div class="rl" id="wp_l4b" style="top:190.5px">Capital:</div><div class="rv" id="wp_v4" style="top:170.2px">$-2,915,620</div></div><div class="card" style="left:575px;top:323px;width:300px;height:174px"><h3 id="h_inbox">Inbox</h3><svg class="x" style="left:272.0px;top:12.2px" viewBox="0 0 24 24"><path d="M19 6.410L17.590 5 12 10.590 6.410 5 5 6.410 10.590 12 5 17.590 6.410 19 12 13.410 17.590 19 19 17.590 13.410 12z"/></svg>
<div class="big" id="g0" style="left:39.500px;top:75px">0</div><div class="big" id="g4" style="left:180px;top:75px">4</div>
<div class="lnk" style="left:43px;top:120px;width:auto;white-space:nowrap;text-align:left"><span id="k_inv">Invoices</span></div><svg class="abs" style="left:98.500px;top:122px" width="17" height="17" viewBox="0 0 24 24"><path fill="#4b9fe3" d="M19 19H5V5h7V3H5c-1.110 0-2 .9-2 2v14c0 1.100.890 2 2 2h14c1.100 0 2-.9 2-2v-7h-2v7zM14 3v2h3.590l-9.830 9.830 1.410 1.410L19 6.410V10h2V3h-7z"/></svg>
<div class="lnk" style="left:179.800px;top:120px;width:auto;white-space:nowrap;text-align:left"><span id="k_exp">Expenses</span></div><svg class="abs" style="left:243.500px;top:122px" width="17" height="17" viewBox="0 0 24 24"><path fill="#4b9fe3" d="M19 19H5V5h7V3H5c-1.110 0-2 .9-2 2v14c0 1.100.890 2 2 2h14c1.100 0 2-.9 2-2v-7h-2v7zM14 3v2h3.590l-9.830 9.830 1.410 1.410L19 6.410V10h2V3h-7z"/></svg>
<div class="vdiv" style="left:149px;top:70px;height:71px"></div>
</div><div class="card" style="left:575px;top:517px;width:300px;height:174px"><h3 id="h_ar">Accounts Receivable</h3><svg class="x" style="left:249.5px;top:11.8px" viewBox="0 0 24 24"><path d="M19 19H5V5h7V3H5c-1.110 0-2 .9-2 2v14c0 1.100.890 2 2 2h14c1.100 0 2-.9 2-2v-7h-2v7zM14 3v2h3.590l-9.830 9.830 1.410 1.410L19 6.410V10h2V3h-7z"/></svg><svg class="x" style="left:272.0px;top:12.2px" viewBox="0 0 24 24"><path d="M19 6.410L17.590 5 12 10.590 6.410 5 5 6.410 10.590 12 5 17.590 6.410 19 12 13.410 17.590 19 19 17.590 13.410 12z"/></svg><div class="rl" id="ar_l0" style="top:48.7px">Total:</div><div class="rv" id="ar_v0" style="top:48.4px">$8,572,583</div><div class="rl" id="ar_l1" style="top:79.2px">Retained:</div><div class="rv" id="ar_v1" style="top:78.9px">$905,091</div><div class="rl" id="ar_l2" style="top:109.6px">Current:</div><div class="rv" id="ar_v2" style="top:109.3px">$11,853</div></div><div class="card" style="left:895px;top:517px;width:300px;height:174px"><h3 id="h_dl">Daily Logins</h3><svg class="x" style="left:249.5px;top:11.8px" viewBox="0 0 24 24"><path d="M19 19H5V5h7V3H5c-1.110 0-2 .9-2 2v14c0 1.100.890 2 2 2h14c1.100 0 2-.9 2-2v-7h-2v7zM14 3v2h3.590l-9.830 9.830 1.410 1.410L19 6.410V10h2V3h-7z"/></svg><svg class="x" style="left:272.0px;top:12.2px" viewBox="0 0 24 24"><path d="M19 6.410L17.590 5 12 10.590 6.410 5 5 6.410 10.590 12 5 17.590 6.410 19 12 13.410 17.590 19 19 17.590 13.410 12z"/></svg><div class="ch" style="right:80px;top:44px" id="t_avg">Average</div><div class="ch" style="right:10.500px;top:44px" id="t_now">Now</div><div class="urow" style="top:75px"><div class="l" id="d_l0" style="top:8.9px">Web</div><div class="po" style="right:70.0px;width:28.0px;height:16px;line-height:16px;top:11.9px;border-radius:9px"><span id="d_o0">12</span></div><div class="pd" style="right:0.0px;width:18.0px;height:18px;line-height:18px;top:10.9px;border-radius:10px"><span id="d_d0">3</span></div></div><div class="urow" style="top:106px"><div class="l" id="d_l1" style="top:9.4px">Android App</div><div class="po" style="right:70.0px;width:21.0px;height:16px;line-height:16px;top:12.4px;border-radius:9px"><span id="d_o1">0</span></div><div class="pd" style="right:0.0px;width:18.0px;height:18px;line-height:18px;top:11.4px;border-radius:10px"><span id="d_d1">0</span></div></div><div class="urow" style="top:138px"><div class="l" id="d_l2" style="top:8.8px">iOS App</div><div class="po" style="right:70.0px;width:21.0px;height:16px;line-height:16px;top:11.8px;border-radius:9px"><span id="d_o2">0</span></div><div class="pd" style="right:0.0px;width:18.0px;height:18px;line-height:18px;top:10.8px;border-radius:10px"><span id="d_d2">0</span></div></div></div>
</body></html>
